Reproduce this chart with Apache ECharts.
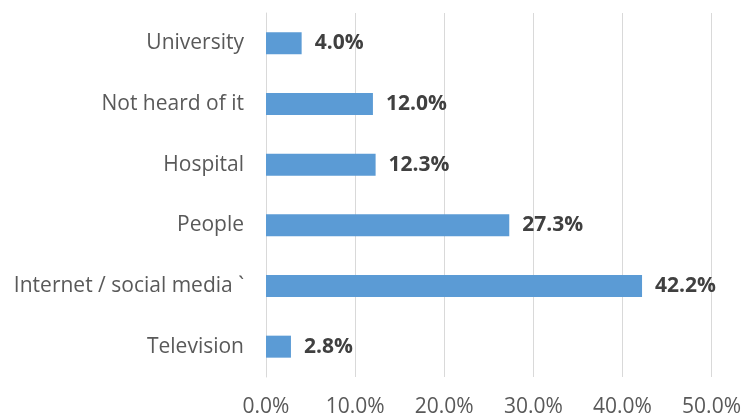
<!DOCTYPE html>
<html>
<head>
<meta charset="utf-8">
<script src="https://cdn.jsdelivr.net/npm/echarts@6/dist/echarts.min.js"></script>
<style>
  html, body { margin: 0; padding: 0; background: #fff; }
  #chart { width: 744px; height: 418px; }
</style>
</head>
<body>
<div id="chart"></div>
<script>
// Sources of information, listed bottom to top as drawn
const categories = ['Television', 'Internet / social media `', 'People', 'Hospital', 'Not heard of it', 'University'];
const shares = [2.8, 42.2, 27.3, 12.3, 12.0, 4.0];
const axisMin = 0;
const axisMax = 50;
const axisStep = 10;

const chart = echarts.init(document.getElementById('chart'), null, { renderer: 'canvas' });

chart.setOption({
  backgroundColor: '#ffffff',
  animation: false,
  grid: { left: 266, right: 31, top: 13, bottom: 40 },
  xAxis: {
    type: 'value',
    min: axisMin,
    max: axisMax,
    interval: axisStep,
    axisLine: { show: false },
    axisTick: { show: false },
    splitLine: { show: true, lineStyle: { color: '#d9d9d9', width: 1 } },
    axisLabel: {
      margin: 20,
      color: '#595959',
      fontFamily: 'Open Sans',
      fontSize: 21,
      formatter: v => v.toFixed(1) + '%'
    }
  },
  yAxis: {
    type: 'category',
    data: categories,
    axisLine: { show: true, lineStyle: { color: '#d9d9d9', width: 1 } },
    axisTick: { show: false },
    axisLabel: {
      margin: 22,
      padding: [5, 0, 0, 0],
      color: '#595959',
      fontFamily: 'Open Sans',
      fontSize: 21
    }
  },
  series: [{
    type: 'bar',
    data: shares,
    barWidth: 22,
    itemStyle: { color: '#5b9bd5' },
    label: {
      show: true,
      position: 'right',
      distance: 13,
      padding: [5, 0, 0, 0],
      color: '#404040',
      fontFamily: 'Open Sans',
      fontWeight: 'bold',
      fontSize: 21,
      formatter: p => p.value.toFixed(1) + '%'
    }
  }]
});
</script>
</body>
</html>
